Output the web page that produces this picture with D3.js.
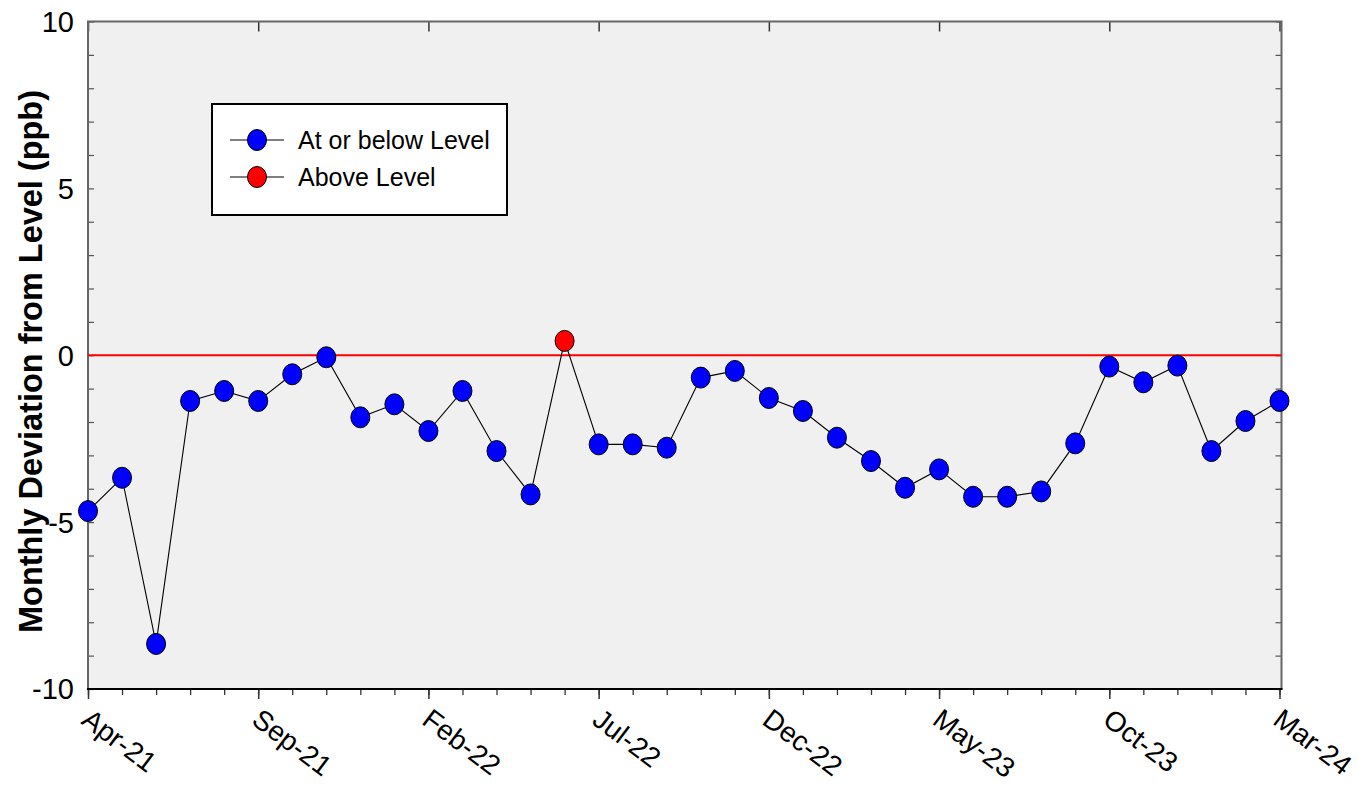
<!DOCTYPE html>
<html>
<head>
<meta charset="utf-8">
<script src="https://cdn.jsdelivr.net/npm/d3@7"></script>
<style>
  html, body { margin: 0; padding: 0; background: #fff; }
  svg { display: block; font-family: 'Liberation Sans', Arial, sans-serif; }
</style>
</head>
<body>
<div id="chart"></div>
<script>
// Monthly deviation from level, Apr-21 .. Mar-24
const MONTHS = [
  'Apr-21', 'May-21', 'Jun-21', 'Jul-21', 'Aug-21', 'Sep-21', 'Oct-21', 'Nov-21', 'Dec-21',
  'Jan-22', 'Feb-22', 'Mar-22', 'Apr-22', 'May-22', 'Jun-22', 'Jul-22', 'Aug-22', 'Sep-22',
  'Oct-22', 'Nov-22', 'Dec-22', 'Jan-23', 'Feb-23', 'Mar-23', 'Apr-23', 'May-23', 'Jun-23',
  'Jul-23', 'Aug-23', 'Sep-23', 'Oct-23', 'Nov-23', 'Dec-23', 'Jan-24', 'Feb-24', 'Mar-24'
]
const DEVIATION = [
  -4.67, -3.67, -8.65, -1.37, -1.07, -1.37, -0.57, -0.06, -1.86,
  -1.47, -2.27, -1.07, -2.87, -4.17, 0.43, -2.67, -2.67, -2.77,
  -0.67, -0.47, -1.28, -1.67, -2.47, -3.17, -3.97, -3.42, -4.24,
  -4.24, -4.08, -2.64, -0.34, -0.81, -0.31, -2.87, -1.97, -1.37
]
const X_TICK_LABELS = ['Apr-21', 'Sep-21', 'Feb-22', 'Jul-22', 'Dec-22', 'May-23', 'Oct-23', 'Mar-24']
const Y_TICKS = [-10, -5, 0, 5, 10]
const Y_MINOR = d3.range(-10, 11, 1)
const LEVEL = 0
const LEGEND = [
  { label: 'At or below Level', color: '#0000ff' },
  { label: 'Above Level', color: '#ff0000' }
]

function drawChart() {
  const W = 1358, H = 786
  const x0 = 88, x1 = 1281.5, y0 = 21.5, y1 = 689

  const svg = d3.select('#chart').append('svg').attr('width', W).attr('height', H)

  const x = d3.scalePoint().domain(MONTHS).range([x0, x1 - 2])
  const y = d3.scaleLinear().domain([-10, 10]).range([y1, y0])

  // plot background
  svg.append('rect')
    .attr('x', x0).attr('y', y0)
    .attr('width', x1 - x0).attr('height', y1 - y0)
    .attr('fill', '#f0f0f0')

  // inner ticks on left & right
  svg.append('g')
    .attr('transform', `translate(${x0},0)`)
    .call(d3.axisRight(y).tickValues(Y_MINOR).tickSize(6).tickFormat(''))
    .call(g => g.select('.domain').remove())
    .call(g => g.selectAll('line').attr('stroke', '#555').attr('stroke-width', 1.2))

  svg.append('g')
    .attr('transform', `translate(${x1},0)`)
    .call(d3.axisLeft(y).tickValues(Y_MINOR).tickSize(6).tickFormat(''))
    .call(g => g.select('.domain').remove())
    .call(g => g.selectAll('line').attr('stroke', '#555').attr('stroke-width', 1.2))

  // top ticks at labelled months
  svg.append('g')
    .attr('transform', `translate(0,${y0})`)
    .call(d3.axisBottom(x).tickValues(X_TICK_LABELS).tickSize(10).tickFormat(''))
    .call(g => g.select('.domain').remove())
    .call(g => g.selectAll('line').attr('stroke', '#333').attr('stroke-width', 1.5))

  // bottom ticks: every month, longer at labels
  svg.append('g')
    .attr('transform', `translate(0,${y1})`)
    .call(d3.axisBottom(x).tickSize(6).tickFormat(''))
    .call(g => g.select('.domain').remove())
    .call(g => g.selectAll('line').attr('stroke', '#333').attr('stroke-width', 1.3))

  svg.append('g')
    .attr('transform', `translate(0,${y1})`)
    .call(d3.axisBottom(x).tickValues(X_TICK_LABELS).tickSize(10).tickFormat(''))
    .call(g => g.select('.domain').remove())
    .call(g => g.selectAll('line').attr('stroke', '#333').attr('stroke-width', 1.5))

  // frame
  svg.append('path')
    .attr('d', `M${x0},${y1}V${y0}H${x1}V${y1}`)
    .attr('fill', 'none').attr('stroke', '#666').attr('stroke-width', 2)
  svg.append('line')
    .attr('x1', x0 - 1).attr('x2', x1 + 1).attr('y1', y1).attr('y2', y1)
    .attr('stroke', '#000').attr('stroke-width', 2)

  // y tick labels
  svg.append('g')
    .selectAll('text')
    .data(Y_TICKS)
    .join('text')
    .attr('x', 74)
    .attr('y', d => y(d))
    .attr('dy', '0.36em')
    .attr('text-anchor', 'end')
    .attr('font-size', 29)
    .attr('fill', '#000')
    .text(d => d)

  // x tick labels, rotated
  svg.append('g')
    .selectAll('text')
    .data(X_TICK_LABELS)
    .join('text')
    .attr('transform', d => `translate(${x(d) - 8},${y1 + 34}) rotate(37)`)
    .attr('text-anchor', 'start')
    .attr('font-size', 28)
    .attr('fill', '#000')
    .text(d => d)

  // y axis title
  svg.append('text')
    .attr('transform', `translate(41.5,${(90 + 633) / 2}) rotate(-90)`)
    .attr('text-anchor', 'middle')
    .attr('font-size', 34)
    .attr('font-weight', 'bold')
    .attr('textLength', 543)
    .attr('lengthAdjust', 'spacingAndGlyphs')
    .attr('fill', '#000')
    .text('Monthly Deviation from Level (ppb)')

  // level line
  svg.append('line')
    .attr('x1', x0).attr('x2', x1)
    .attr('y1', y(LEVEL)).attr('y2', y(LEVEL))
    .attr('stroke', '#ff0000').attr('stroke-width', 2)

  // series line
  const line = d3.line()
    .x((d, i) => x(MONTHS[i]))
    .y(d => y(d))

  svg.append('path')
    .datum(DEVIATION)
    .attr('fill', 'none')
    .attr('stroke', '#000')
    .attr('stroke-width', 1.1)
    .attr('d', line)

  // markers
  svg.append('g')
    .selectAll('ellipse')
    .data(DEVIATION)
    .join('ellipse')
    .attr('cx', (d, i) => x(MONTHS[i]))
    .attr('cy', d => y(d))
    .attr('rx', 9.5)
    .attr('ry', 10.5)
    .attr('fill', d => d > LEVEL ? '#ff0000' : '#0000ff')
    .attr('stroke', '#000')
    .attr('stroke-width', 1)

  // legend
  const legend = svg.append('g').attr('transform', 'translate(212,104)')
  legend.append('rect')
    .attr('width', 295).attr('height', 111)
    .attr('fill', '#fff').attr('stroke', '#000').attr('stroke-width', 2)

  LEGEND.forEach((item, i) => {
    const row = legend.append('g').attr('transform', `translate(0,${36 + i * 37})`)
    row.append('line')
      .attr('x1', 18).attr('x2', 72)
      .attr('stroke', '#000').attr('stroke-width', 1.1)
    row.append('ellipse')
      .attr('cx', 45).attr('rx', 9.5).attr('ry', 10.5)
      .attr('fill', item.color).attr('stroke', '#000').attr('stroke-width', 1)
    row.append('text')
      .attr('x', 86).attr('dy', '0.36em')
      .attr('font-size', 25)
      .attr('fill', '#000')
      .text(item.label)
  })
}

drawChart()
</script>
</body>
</html>
